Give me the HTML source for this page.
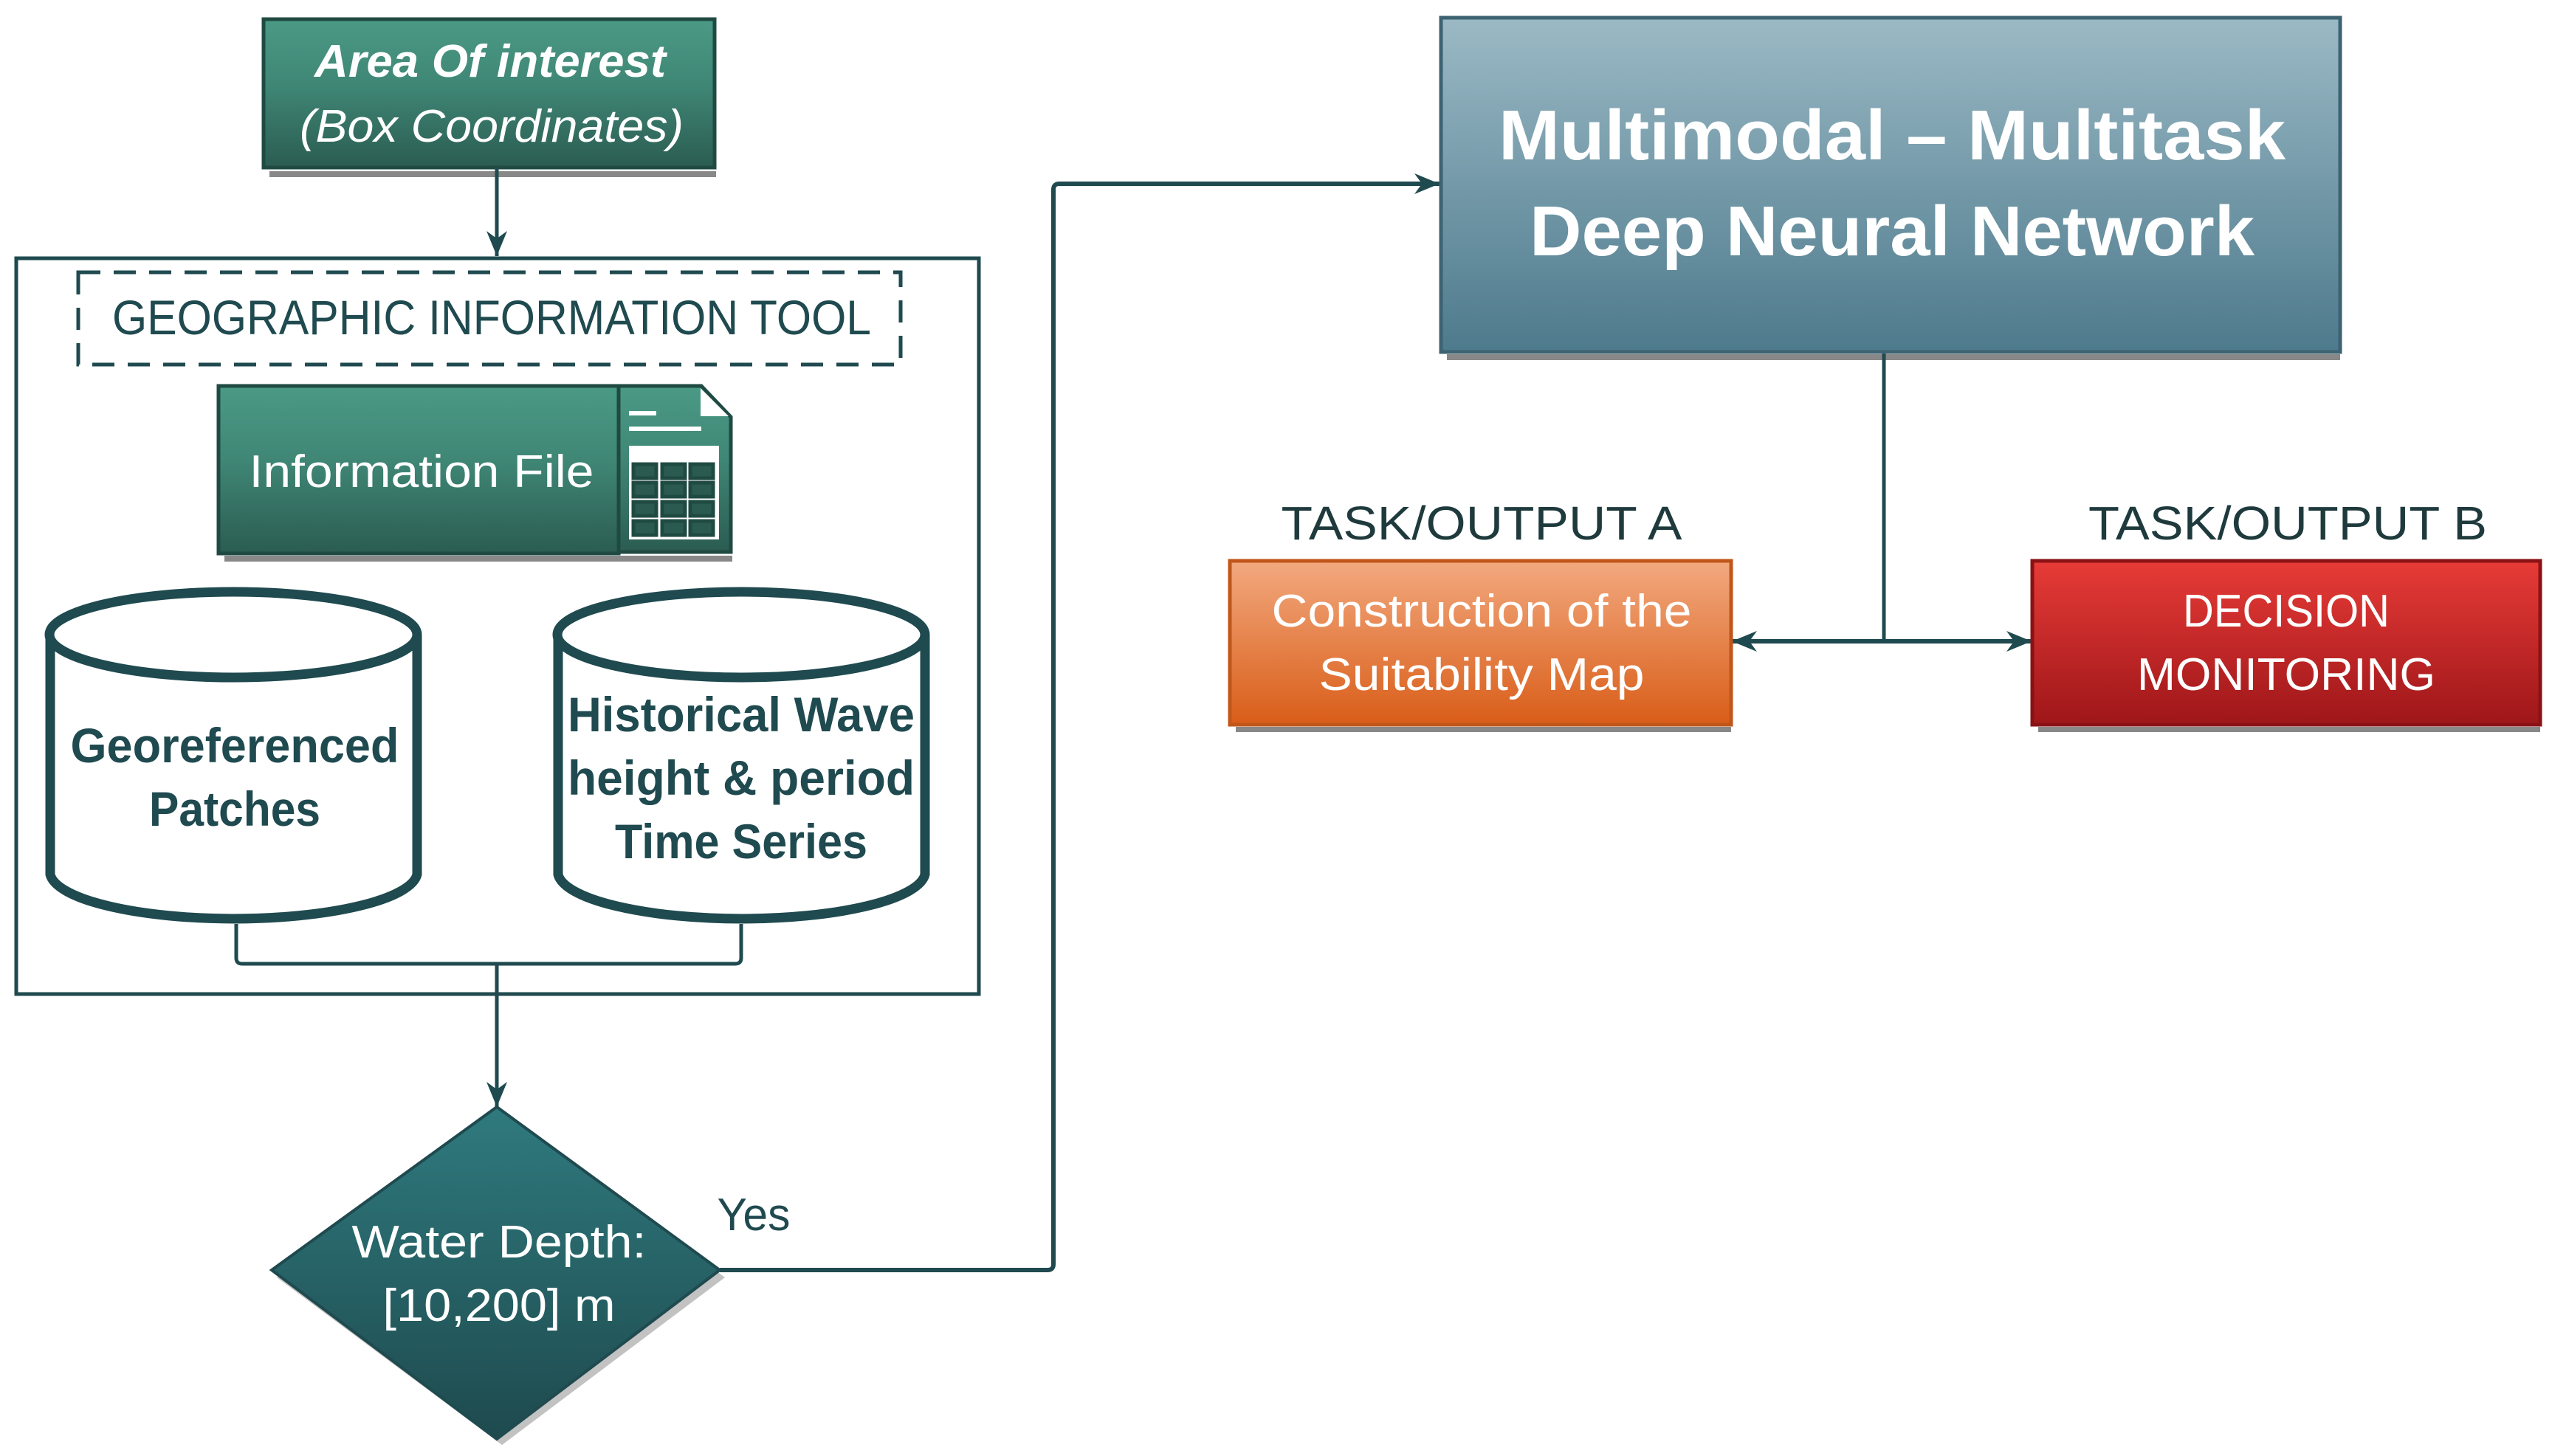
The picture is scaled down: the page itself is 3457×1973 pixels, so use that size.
<!DOCTYPE html>
<html><head><meta charset="utf-8"><style>html,body{margin:0;padding:0;background:#fff}svg{display:block}</style></head>
<body>
<svg width="3457" height="1973" viewBox="0 0 3457 1973" xmlns="http://www.w3.org/2000/svg" font-family="'Liberation Sans', sans-serif">
<defs>
<linearGradient id="g" x1="0" y1="0" x2="0" y2="1"><stop offset="0" stop-color="#4b9a86"/><stop offset="0.45" stop-color="#3f8675"/><stop offset="1" stop-color="#2b5c52"/></linearGradient>
<linearGradient id="d" x1="0" y1="0" x2="0" y2="1"><stop offset="0" stop-color="#2f7a7e"/><stop offset="1" stop-color="#1e4a4e"/></linearGradient>
<linearGradient id="b" x1="0" y1="0" x2="0" y2="1"><stop offset="0" stop-color="#9bb9c5"/><stop offset="1" stop-color="#4d7a8c"/></linearGradient>
<linearGradient id="o" x1="0" y1="0" x2="0" y2="1"><stop offset="0" stop-color="#f2a97f"/><stop offset="1" stop-color="#d95d18"/></linearGradient>
<linearGradient id="r" x1="0" y1="0" x2="0" y2="1"><stop offset="0" stop-color="#e73b37"/><stop offset="1" stop-color="#9e1619"/></linearGradient>
<marker id="ar" viewBox="0 0 10 10" refX="10" refY="5" markerWidth="34" markerHeight="28" markerUnits="userSpaceOnUse" orient="auto" preserveAspectRatio="none"><path d="M0,0 L10,5 L0,10 L3,5 z" fill="#1f4a4f"/></marker>
</defs>
<g fill="#888">
<rect x="365" y="232" width="605" height="8"/>
<rect x="304" y="753" width="688" height="8"/>
<rect x="1960" y="480" width="1210" height="8"/>
<rect x="1674" y="985" width="671" height="7"/>
<rect x="2761" y="985" width="680" height="7"/>
</g>
<rect x="357" y="26" width="611" height="201" fill="url(#g)" stroke="#1f4a42" stroke-width="5"/>
<text x="664" y="104" fill="#fff" font-size="62" font-weight="bold" font-style="italic" text-anchor="middle" textLength="476" lengthAdjust="spacingAndGlyphs">Area Of interest</text>
<text x="666" y="192" fill="#fff" font-size="62" font-style="italic" text-anchor="middle" textLength="520" lengthAdjust="spacingAndGlyphs">(Box Coordinates)</text>
<g stroke="#1f4a4f" stroke-width="5" fill="none">
<line x1="673" y1="227" x2="673" y2="347" marker-end="url(#ar)"/>
<rect x="22" y="350" width="1304" height="997"/>
<path d="M320,1252 V1298 Q320,1306 328,1306 H996 Q1004,1306 1004,1298 V1252"/>
<line x1="673" y1="1306" x2="673" y2="1500" marker-end="url(#ar)"/>
<path d="M975,1721 H1419 Q1427,1721 1427,1713 V257 Q1427,249 1435,249 H1950" stroke-width="6" marker-end="url(#ar)"/>
<path d="M2552,477 V869"/>
</g>
<line x1="2552" y1="869" x2="2346" y2="869" stroke="#1f4a4f" stroke-width="6" marker-end="url(#ar)"/>
<line x1="2552" y1="869" x2="2752" y2="869" stroke="#1f4a4f" stroke-width="6" marker-end="url(#ar)"/>
<rect x="106" y="369" width="1114" height="125" fill="none" stroke="#1f4a4f" stroke-width="5" stroke-dasharray="30,18"/>
<text x="666" y="453" fill="#1f4a4f" font-size="66" text-anchor="middle" textLength="1028" lengthAdjust="spacingAndGlyphs">GEOGRAPHIC INFORMATION TOOL</text>
<rect x="296" y="523" width="542" height="227" fill="url(#g)" stroke="#1f4a42" stroke-width="5"/>
<text x="571" y="660" fill="#fff" font-size="62" text-anchor="middle" textLength="467" lengthAdjust="spacingAndGlyphs">Information File</text>
<path d="M838,523 H950 L990,565 V748 H838 Z" fill="url(#g)" stroke="#1f4a42" stroke-width="5"/>
<path d="M949,526 L987,564 H949 Z" fill="#fff"/>
<rect x="852" y="557" width="37" height="6" fill="#fff"/>
<rect x="852" y="578" width="98" height="6" fill="#fff"/>
<rect x="852" y="604" width="122" height="127" fill="#fff"/>
<g fill="#2a5a50" stroke="#1f4a42" stroke-width="5">
<rect x="858" y="629" width="31" height="19"/><rect x="897" y="629" width="31" height="19"/><rect x="935" y="629" width="31" height="19"/>
<rect x="858" y="654" width="31" height="19"/><rect x="897" y="654" width="31" height="19"/><rect x="935" y="654" width="31" height="19"/>
<rect x="858" y="680" width="31" height="19"/><rect x="897" y="680" width="31" height="19"/><rect x="935" y="680" width="31" height="19"/>
<rect x="858" y="706" width="31" height="19"/><rect x="897" y="706" width="31" height="19"/><rect x="935" y="706" width="31" height="19"/>
</g>
<g fill="#fff" stroke="#1f4a4f" stroke-width="13">
<path d="M68,860 V1185 A249,64 0 0 0 565,1185 V860"/>
<ellipse cx="316" cy="860" rx="249" ry="58"/>
<path d="M756,860 V1185 A249,64 0 0 0 1253,1185 V860"/>
<ellipse cx="1004" cy="860" rx="249" ry="58"/>
</g>
<g fill="#1f4a4f" font-size="66" font-weight="bold" text-anchor="middle">
<text x="318" y="1033" textLength="445" lengthAdjust="spacingAndGlyphs">Georeferenced</text>
<text x="318" y="1119" textLength="232" lengthAdjust="spacingAndGlyphs">Patches</text>
<text x="1004" y="991" textLength="470" lengthAdjust="spacingAndGlyphs">Historical Wave</text>
<text x="1004" y="1077" textLength="470" lengthAdjust="spacingAndGlyphs">height &amp; period</text>
<text x="1004" y="1163" textLength="342" lengthAdjust="spacingAndGlyphs">Time Series</text>
</g>
<path d="M680,1510 L982,1731 L680,1958 L375,1731 Z" fill="#999" opacity="0.6"/>
<path d="M673,1500 L975,1721 L673,1950 L368,1721 Z" fill="url(#d)" stroke="#1f4a4f" stroke-width="4"/>
<text x="676" y="1704" fill="#fff" font-size="62" text-anchor="middle" textLength="399" lengthAdjust="spacingAndGlyphs">Water Depth:</text>
<text x="676" y="1790" fill="#fff" font-size="62" text-anchor="middle" textLength="315" lengthAdjust="spacingAndGlyphs">[10,200] m</text>
<text x="1021" y="1667" fill="#1f4a4f" font-size="62" text-anchor="middle" textLength="99" lengthAdjust="spacingAndGlyphs">Yes</text>
<rect x="1952" y="24" width="1218" height="453" fill="url(#b)" stroke="#3d6272" stroke-width="5"/>
<text x="2563" y="216" fill="#fff" font-size="96" font-weight="bold" text-anchor="middle" textLength="1066" lengthAdjust="spacingAndGlyphs">Multimodal – Multitask</text>
<text x="2563" y="346" fill="#fff" font-size="96" font-weight="bold" text-anchor="middle" textLength="982" lengthAdjust="spacingAndGlyphs">Deep Neural Network</text>
<text x="2007" y="731" fill="#1f3a3c" font-size="64" text-anchor="middle" textLength="543" lengthAdjust="spacingAndGlyphs">TASK/OUTPUT A</text>
<text x="3099" y="731" fill="#1f3a3c" font-size="64" text-anchor="middle" textLength="540" lengthAdjust="spacingAndGlyphs">TASK/OUTPUT B</text>
<rect x="1666" y="760" width="679" height="222" fill="url(#o)" stroke="#c0561a" stroke-width="5"/>
<text x="2007" y="849" fill="#fff" font-size="62" text-anchor="middle" textLength="569" lengthAdjust="spacingAndGlyphs">Construction of the</text>
<text x="2007" y="935" fill="#fff" font-size="62" text-anchor="middle" textLength="441" lengthAdjust="spacingAndGlyphs">Suitability Map</text>
<rect x="2753" y="760" width="688" height="222" fill="url(#r)" stroke="#8a1214" stroke-width="5"/>
<text x="3097" y="849" fill="#fff" font-size="62" text-anchor="middle" textLength="280" lengthAdjust="spacingAndGlyphs">DECISION</text>
<text x="3097" y="935" fill="#fff" font-size="62" text-anchor="middle" textLength="404" lengthAdjust="spacingAndGlyphs">MONITORING</text>
</svg>
</body></html>
